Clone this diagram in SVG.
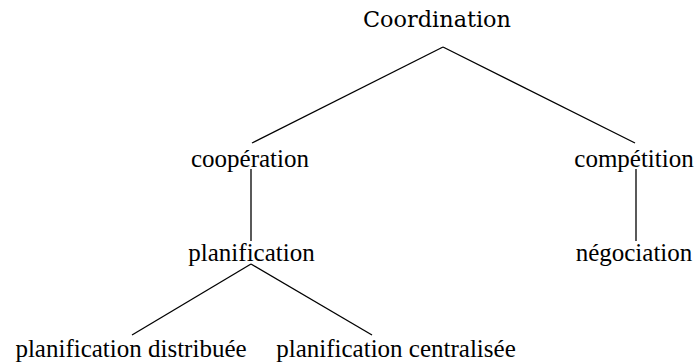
<svg xmlns="http://www.w3.org/2000/svg" width="696" height="364" viewBox="0 0 696 364">
<style>
.t{font-family:'Liberation Serif','Times New Roman',serif;font-size:25px;fill:#000;text-anchor:middle}
.h{font-family:'DejaVu Serif','Century Schoolbook',serif;font-size:22px;fill:#000}
.c line{stroke:#000;stroke-width:1.3;fill:none}
</style>
<rect width="696" height="364" fill="#fff"/>
<g class="c" id="connectors">
<line x1="443" y1="47" x2="252" y2="143"/>
<line x1="443" y1="47" x2="635" y2="143"/>
<line x1="251" y1="169" x2="251" y2="241"/>
<line x1="636" y1="169" x2="636" y2="241"/>
<line x1="251" y1="264" x2="132" y2="335"/>
<line x1="251" y1="264" x2="372" y2="335"/>
</g>
<g id="coordination"><text class="h" x="363" y="27" textLength="148" lengthAdjust="spacingAndGlyphs">Coordination</text></g>
<g id="cooperation"><text class="t" x="250" y="167">coopération</text></g>
<g id="competition"><text class="t" x="634" y="167">compétition</text></g>
<g id="planification"><text class="t" x="251.5" y="261">planification</text></g>
<g id="negociation"><text class="t" x="634" y="261">négociation</text></g>
<g id="distribuee"><text class="t" x="131" y="357">planification distribuée</text></g>
<g id="centralisee"><text class="t" x="396" y="357">planification centralisée</text></g>
</svg>
